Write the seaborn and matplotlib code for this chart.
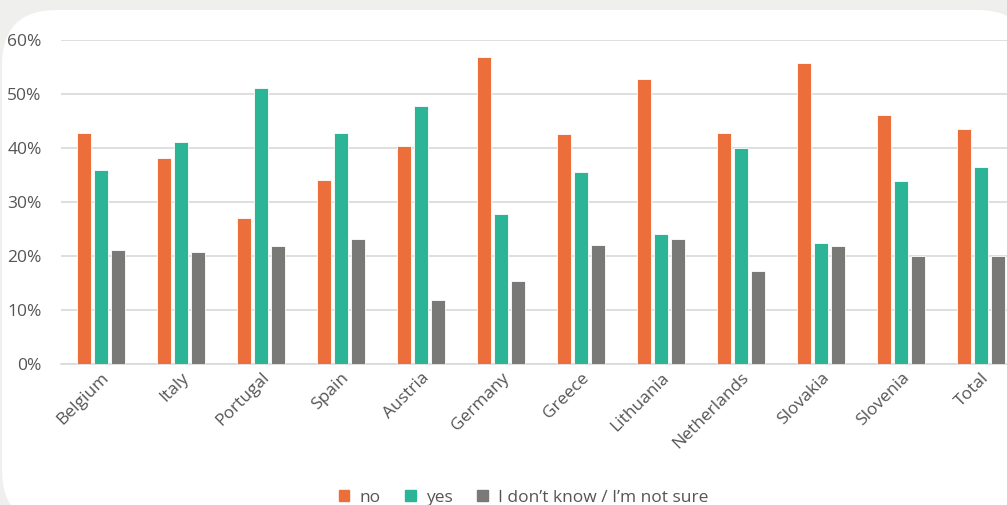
import pandas as pd
import matplotlib.pyplot as plt
import seaborn as sns
from matplotlib.patches import FancyBboxPatch
from matplotlib.transforms import IdentityTransform

# Dados (%)
paises = ['Belgium', 'Italy', 'Portugal', 'Spain', 'Austria', 'Germany',
          'Greece', 'Lithuania', 'Netherlands', 'Slovakia', 'Slovenia', 'Total']
resp_no = [42.7, 38.1, 27.0, 34.1, 40.4, 56.9, 42.5, 52.8, 42.8, 55.7, 46.2, 43.6]
resp_yes = [36.0, 41.1, 51.2, 42.8, 47.7, 27.8, 35.5, 24.1, 40.0, 22.5, 33.8, 36.5]
resp_nao_sei = [21.2, 20.7, 21.8, 23.1, 11.9, 15.3, 22.0, 23.1, 17.2, 21.8, 20.0, 20.0]
respostas = ['no', 'yes', "I don\u2019t know / I\u2019m not sure"]
cores = ['#EC6E3A', '#2BB596', '#797977']

df = pd.DataFrame({'pais': paises * 3,
                   'resposta': [respostas[0]] * 12 + [respostas[1]] * 12 + [respostas[2]] * 12,
                   'valor': resp_no + resp_yes + resp_nao_sei})

sns.set_style('white')
plt.rcParams['font.family'] = ['Open Sans', 'DejaVu Sans']
texto = '#555555'

fig = plt.figure(figsize=(10.07, 5.05), dpi=100, facecolor='#EFEFED')

# Cartão branco com cantos arredondados
fig.patches.append(FancyBboxPatch((2, -20), 1030, 515, boxstyle='round,pad=0,rounding_size=55',
                                  transform=IdentityTransform(), facecolor='white',
                                  edgecolor='none', zorder=-5))

ax = fig.add_axes([61 / 1007, 1 - 364 / 505, 960 / 1007, 324 / 505])
ax.set_facecolor('none')
sns.barplot(data=df, x='pais', y='valor', hue='resposta', palette=cores, saturation=1,
            width=0.64, gap=0.15, edgecolor='#ffffff', linewidth=0.6, ax=ax,
            legend=False, zorder=3)

ax.set_ylim(0, 60)
ax.set_xlim(-0.5, 11.5)
ax.set_yticks(range(0, 61, 10))
ax.set_yticklabels([f'{v}%' for v in range(0, 61, 10)], fontsize=12.5, color=texto)
ax.tick_params(axis='y', length=0, pad=14)
ax.tick_params(axis='x', length=0, pad=4)
plt.setp(ax.get_xticklabels(), rotation=45, ha='right', rotation_mode='anchor',
         fontsize=12.5, color=texto)
ax.set_xlabel('')
ax.set_ylabel('')
ax.grid(axis='y', color='#D9D9D9', linewidth=1.2, zorder=0)
for lado in ['top', 'right', 'left']:
    ax.spines[lado].set_visible(False)
ax.spines['bottom'].set_color('#D9D9D9')
ax.spines['bottom'].set_linewidth(1.2)

handles = [plt.Rectangle((0, 0), 1, 1, color=c) for c in cores]
fig.legend(handles, respostas, loc='lower center', ncol=3, frameon=False,
           bbox_to_anchor=(0.52, -0.032), fontsize=12.5, handlelength=0.6, handleheight=0.6,
           columnspacing=1.4, handletextpad=0.6, labelcolor=texto)

plt.savefig('out.png', dpi=100, facecolor=fig.get_facecolor())
